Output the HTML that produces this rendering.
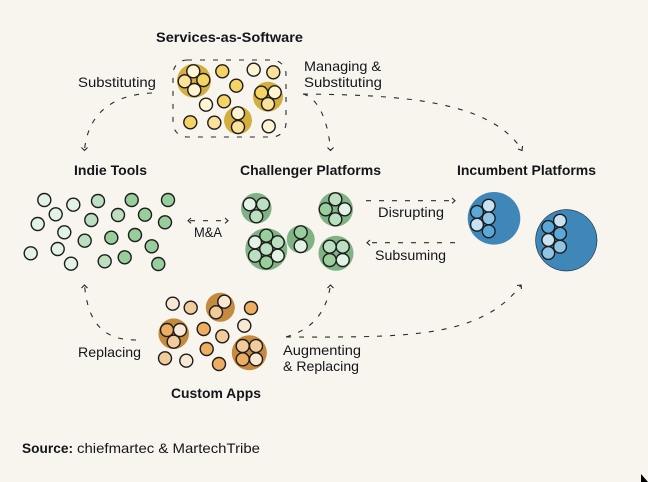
<!DOCTYPE html>
<html><head><meta charset="utf-8"><style>
html,body{margin:0;padding:0;background:#f8f5ee;width:648px;height:482px;overflow:hidden}
svg{display:block}
text{font-family:"Liberation Sans",sans-serif;font-size:14px;fill:#14161c}
.b{font-weight:700}
circle{stroke:#1c1c1c;stroke-width:1.4}
.big{stroke:none}
.d{fill:none;stroke:#2a2a2a;stroke-width:1.1;stroke-dasharray:5 8}
.a{fill:none;stroke:#222;stroke-width:1.1}
.yb{fill:#d4ae3f}.y1{fill:#f6d365}.y2{fill:#fbe29b}.y3{fill:#fff5d3}
.gb{fill:#7fb285}.g1{fill:#97ce9c}.g2{fill:#bcdfc1}.g3{fill:#e2f2e4}
.bb{fill:#4087b9}.b1{fill:#5ba8d8}.b2{fill:#8fc4e5}.b3{fill:#c9e2f2}
.ob{fill:#c68a3e}.o1{fill:#edae62}.o2{fill:#f1cb9c}.o3{fill:#f9e8d4}
</style></head><body>
<svg width="648" height="482" viewBox="0 0 648 482" xmlns="http://www.w3.org/2000/svg">
<rect width="648" height="482" fill="#f8f5ee"/>
<polygon points="641,474 648,482 641,482" fill="#000"/>

<!-- Services -->
<rect class="d" x="173" y="60" width="113" height="77" rx="14"/>
<g>
<circle class="big yb" cx="194" cy="80.7" r="17"/>
<circle class="big yb" cx="268" cy="96.7" r="15"/>
<circle class="big yb" cx="238" cy="120.3" r="14"/>
</g>
<g>
<circle class="y3" cx="193.3" cy="71.3" r="6.5"/><circle class="y2" cx="184.7" cy="81.3" r="6.5"/><circle class="y1" cx="203.3" cy="80" r="6.5"/><circle class="y3" cx="194.3" cy="90" r="6.5"/>
<circle class="y1" cx="261.3" cy="92.7" r="6.5"/><circle class="y3" cx="274.7" cy="92.3" r="6.5"/><circle class="y2" cx="268" cy="104" r="6.5"/>
<circle class="y3" cx="238" cy="113.3" r="6.5"/><circle class="y2" cx="238" cy="127" r="6.5"/>
<circle class="y1" cx="222.3" cy="71.3" r="6.5"/><circle class="y3" cx="253.7" cy="69.7" r="6.5"/><circle class="y2" cx="273.3" cy="72.3" r="6.5"/><circle class="y1" cx="236.3" cy="85.7" r="6.5"/><circle class="y3" cx="206" cy="104.7" r="6.5"/><circle class="y1" cx="224" cy="101.3" r="6.5"/><circle class="y1" cx="190.3" cy="122.3" r="6.5"/><circle class="y2" cx="214.3" cy="122.7" r="6.5"/><circle class="y3" cx="268.7" cy="126.3" r="6.5"/>
</g>

<!-- Indie -->
<g>
<circle class="g3" cx="44.3" cy="200" r="6.5"/><circle class="g3" cx="73.3" cy="204.7" r="6.5"/><circle class="g2" cx="98" cy="201" r="6.5"/><circle class="g1" cx="131.7" cy="200" r="6.5"/><circle class="g1" cx="168" cy="200" r="6.5"/><circle class="g3" cx="55.7" cy="214.3" r="6.5"/><circle class="g3" cx="37.7" cy="224" r="6.5"/><circle class="g2" cx="91.3" cy="220" r="6.5"/><circle class="g2" cx="118" cy="215" r="6.5"/><circle class="g1" cx="145" cy="214.7" r="6.5"/><circle class="g1" cx="165" cy="222.3" r="6.5"/><circle class="g3" cx="64.3" cy="232.3" r="6.5"/><circle class="g2" cx="84.7" cy="240.7" r="6.5"/><circle class="g1" cx="111.3" cy="237.7" r="6.5"/><circle class="g1" cx="135" cy="235" r="6.5"/><circle class="g1" cx="151.7" cy="246.3" r="6.5"/><circle class="g3" cx="30.7" cy="253.3" r="6.5"/><circle class="g3" cx="57.7" cy="249" r="6.5"/><circle class="g3" cx="71" cy="263.7" r="6.5"/><circle class="g2" cx="104.7" cy="261.3" r="6.5"/><circle class="g1" cx="124.7" cy="257.3" r="6.5"/><circle class="g1" cx="158.3" cy="264" r="6.5"/>
</g>

<!-- Challenger -->
<circle class="big gb" cx="256.3" cy="208.3" r="15.3"/>
<circle class="big gb" cx="335.7" cy="209.3" r="17.3"/>
<circle class="big gb" cx="266.3" cy="249.3" r="21"/>
<circle class="big gb" cx="300.7" cy="239.3" r="14"/>
<circle class="big gb" cx="336" cy="253.3" r="17.5"/>
<g>
<circle class="g3" cx="249.7" cy="204.3" r="6.5"/><circle class="g2" cx="263" cy="204.3" r="6.5"/><circle class="g2" cx="256.3" cy="216.3" r="6.5"/>
<circle class="g2" cx="335.3" cy="199.3" r="6.5"/><circle class="g1" cx="325.7" cy="209.3" r="6.5"/><circle class="g3" cx="344.7" cy="209.3" r="6.5"/><circle class="g2" cx="335.3" cy="219.3" r="6.5"/>
<circle class="g1" cx="266.3" cy="235.7" r="6.5"/><circle class="g3" cx="255" cy="242.3" r="6.5"/><circle class="g2" cx="277.7" cy="242.3" r="6.5"/><circle class="g2" cx="255" cy="255.7" r="6.5"/><circle class="g3" cx="277.7" cy="255.7" r="6.5"/><circle class="g1" cx="266.3" cy="262.3" r="6.5"/><circle class="g2" cx="266.3" cy="249" r="6.5"/>
<circle class="g1" cx="300.7" cy="232.3" r="6.5"/><circle class="g3" cx="300.7" cy="246" r="6.5"/>
<circle class="g2" cx="329.7" cy="246.7" r="6.5"/><circle class="g2" cx="342.7" cy="246.7" r="6.5"/><circle class="g1" cx="329.7" cy="260" r="6.5"/><circle class="g3" cx="342.7" cy="260" r="6.5"/>
</g>

<!-- Incumbent -->
<circle class="big bb" cx="494" cy="218.3" r="26.3"/>
<circle class="big bb" cx="566.3" cy="240.3" r="31"/>
<circle cx="566.3" cy="240.3" r="30.7" fill="none" style="stroke-width:.5"/>
<g>
<circle class="b3" cx="488.7" cy="205.7" r="6.4"/><circle class="b1" cx="477" cy="212" r="6.4"/><circle class="b2" cx="488.7" cy="218.3" r="6.4"/><circle class="b3" cx="477" cy="224.7" r="6.4"/><circle class="b1" cx="488.7" cy="231.3" r="6.4"/>
<circle class="b3" cx="560" cy="220.7" r="6.4"/><circle class="b1" cx="548.3" cy="227" r="6.4"/><circle class="b1" cx="560" cy="233.7" r="6.4"/><circle class="b3" cx="548.3" cy="240" r="6.4"/><circle class="b2" cx="560" cy="246.7" r="6.4"/><circle class="b2" cx="548.3" cy="253" r="6.4"/>
</g>

<!-- Custom -->
<circle class="big ob" cx="220.3" cy="307.3" r="14.5"/>
<circle class="big ob" cx="173.7" cy="333.7" r="15.3"/>
<circle class="big ob" cx="249.3" cy="352.7" r="17.5"/>
<g>
<circle class="o3" cx="224.3" cy="301.7" r="6.5"/><circle class="o2" cx="216" cy="312.3" r="6.5"/>
<circle class="o1" cx="167" cy="330" r="6.5"/><circle class="o3" cx="180" cy="330" r="6.5"/><circle class="o2" cx="173.7" cy="341.7" r="6.5"/>
<circle class="o2" cx="242.7" cy="346" r="6.5"/><circle class="o2" cx="256" cy="346" r="6.5"/><circle class="o1" cx="242.7" cy="359.3" r="6.5"/><circle class="o3" cx="256" cy="359.3" r="6.5"/>
<circle class="o3" cx="172.7" cy="303.7" r="6.5"/><circle class="o2" cx="190.7" cy="307.7" r="6.5"/><circle class="o1" cx="251" cy="308" r="6.5"/><circle class="o3" cx="244.3" cy="325.7" r="6.5"/><circle class="o1" cx="203.7" cy="329" r="6.5"/><circle class="o2" cx="222.3" cy="336.3" r="6.5"/><circle class="o1" cx="206.7" cy="349" r="6.5"/><circle class="o2" cx="165" cy="358.3" r="6.5"/><circle class="o3" cx="186.3" cy="360.7" r="6.5"/><circle class="o1" cx="219" cy="364" r="6.5"/>
</g>

<!-- Connectors -->
<path class="d" d="M152 93 C110 95 88 115 84.5 150"/>
<polyline class="a" points="81.5,147.5 84.5,150.5 87.5,147.5"/>
<path class="d" d="M303 94 C318 98 328 120 330.5 150"/>
<polyline class="a" points="327.5,147.5 330.5,150.5 333.5,147.5"/>
<path class="d" d="M303 94 C400 95 490 100 522 150"/>
<polyline class="a" points="518,149 522,150.5 522.5,146"/>
<path class="d" d="M136 340 C105 340 88 325 84.5 285"/>
<polyline class="a" points="81.5,288 84.5,285 87.5,288"/>
<path class="d" d="M286 337 C310 330 326 315 330.5 285"/>
<polyline class="a" points="327.5,288 330.5,285 333.5,288"/>
<path class="d" d="M286 337 C400 337 480 340 521 285"/>
<polyline class="a" points="517,285.5 521,285 521.5,289"/>
<path class="d" d="M190 220.7 H227"/>
<polyline class="a" points="191,218 188,220.7 191,223.4"/>
<polyline class="a" points="225,218 228,220.7 225,223.4"/>
<path class="d" d="M366 200.7 H454"/>
<polyline class="a" points="452,198 455,200.7 452,203.4"/>
<path class="d" d="M455 242.7 H368"/>
<polyline class="a" points="370,240 367,242.7 370,245.4"/>

<!-- Labels -->
<text class="b" x="156" y="42" textLength="147" lengthAdjust="spacingAndGlyphs">Services-as-Software</text>
<text x="78" y="87" textLength="78" lengthAdjust="spacingAndGlyphs">Substituting</text>
<text x="304" y="71" textLength="77" lengthAdjust="spacingAndGlyphs">Managing &amp;</text>
<text x="304" y="87" textLength="78" lengthAdjust="spacingAndGlyphs">Substituting</text>
<text class="b" x="74" y="175" textLength="73" lengthAdjust="spacingAndGlyphs">Indie Tools</text>
<text class="b" x="240" y="175" textLength="141" lengthAdjust="spacingAndGlyphs">Challenger Platforms</text>
<text class="b" x="457" y="175" textLength="139" lengthAdjust="spacingAndGlyphs">Incumbent Platforms</text>
<text x="194" y="237" textLength="28" lengthAdjust="spacingAndGlyphs">M&amp;A</text>
<text x="378" y="217" textLength="66" lengthAdjust="spacingAndGlyphs">Disrupting</text>
<text x="375" y="260" textLength="71" lengthAdjust="spacingAndGlyphs">Subsuming</text>
<text x="78" y="357" textLength="63" lengthAdjust="spacingAndGlyphs">Replacing</text>
<text x="283" y="355" textLength="78" lengthAdjust="spacingAndGlyphs">Augmenting</text>
<text x="283" y="371" textLength="76" lengthAdjust="spacingAndGlyphs">&amp; Replacing</text>
<text class="b" x="171" y="398" textLength="90" lengthAdjust="spacingAndGlyphs">Custom Apps</text>
<text class="b" x="22" y="453" textLength="51" lengthAdjust="spacingAndGlyphs">Source:</text>
<text x="77" y="453" textLength="183" lengthAdjust="spacingAndGlyphs">chiefmartec &amp; MartechTribe</text>
</svg>
</body></html>
